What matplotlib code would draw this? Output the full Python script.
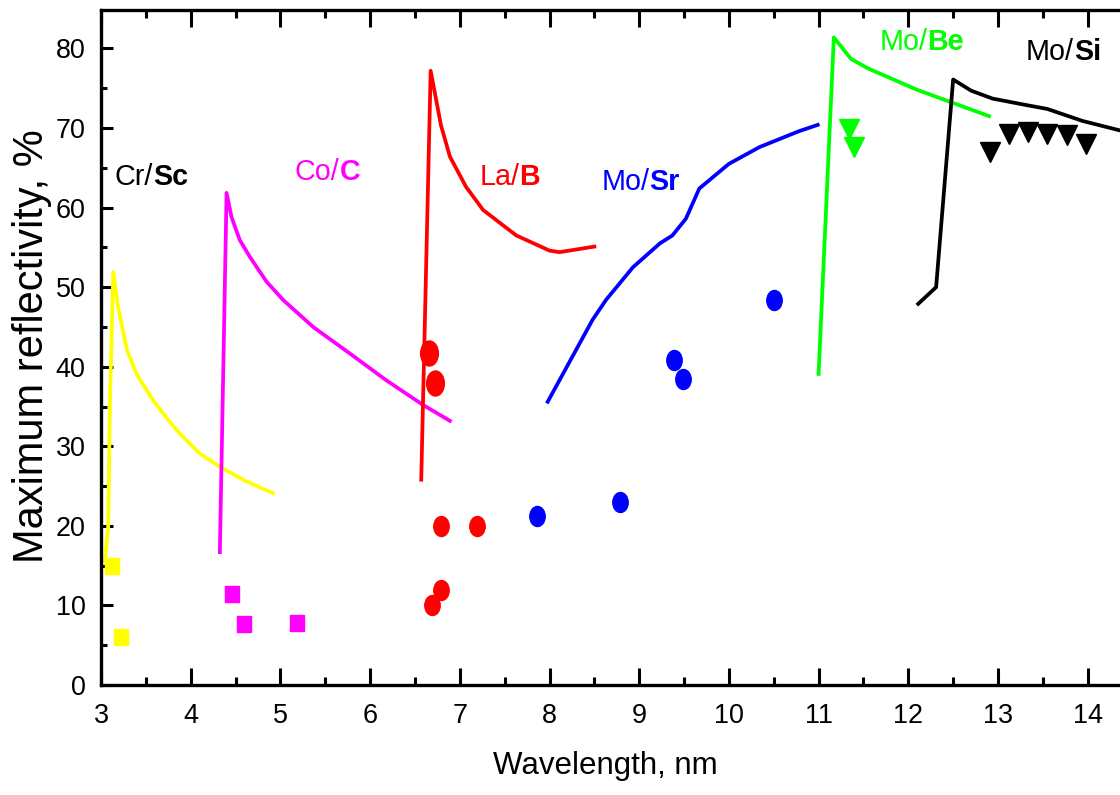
import os
import glob
import numpy as np
import matplotlib
matplotlib.use("Agg")
import matplotlib.pyplot as plt
from matplotlib.path import Path
from matplotlib import font_manager as fm

# ---------------- data ----------------
crsc_x = [3.045, 3.08, 3.10, 3.137, 3.19, 3.29, 3.40, 3.58, 3.75, 3.88, 4.10, 4.33, 4.60, 4.92]
crsc_y = [15.7, 19.9, 35.8, 51.9, 47.5, 42.1, 39.0, 35.8, 33.3, 31.6, 29.1, 27.4, 25.7, 24.1]

coc_x = [4.325, 4.40, 4.455, 4.548, 4.66, 4.845, 5.03, 5.365, 5.77, 6.18, 6.59, 6.89]
coc_y = [16.7, 61.85, 58.8, 55.9, 53.8, 50.7, 48.4, 45.0, 41.7, 38.3, 35.2, 33.2]

lab_x = [6.57, 6.675, 6.79, 6.89, 7.07, 7.26, 7.63, 8.00, 8.11, 8.50]
lab_y = [25.8, 77.2, 70.35, 66.4, 62.6, 59.7, 56.5, 54.6, 54.4, 55.1]

mosr_x = [7.98, 8.48, 8.63, 8.93, 9.23, 9.37, 9.52, 9.67, 10.00, 10.34, 10.78, 10.99]
mosr_y = [35.6, 45.9, 48.4, 52.5, 55.5, 56.5, 58.6, 62.4, 65.5, 67.6, 69.6, 70.4]

mobe_x = [11.00, 11.17, 11.36, 11.55, 12.10, 12.90]
mobe_y = [39.1, 81.4, 78.7, 77.5, 74.8, 71.5]

mosi_x = [12.11, 12.31, 12.50, 12.70, 12.94, 13.31, 13.55, 13.94, 14.36]
mosi_y = [47.9, 50.0, 76.1, 74.7, 73.7, 72.9, 72.4, 70.9, 69.7]

# measured points
crsc_px = [3.126, 3.22]
crsc_py = [15.0, 6.0]
coc_px = [4.46, 4.59, 5.19]
coc_py = [11.4, 7.7, 7.8]
lab_px = [6.79, 7.19, 6.79, 6.69]
lab_py = [20.0, 20.0, 11.9, 10.0]
lab_big_px = [6.66, 6.72]
lab_big_py = [41.7, 38.0]
mosr_px = [7.86, 8.79, 9.39, 9.49, 10.50]
mosr_py = [21.2, 23.0, 40.8, 38.4, 48.4]
mobe_px = [11.34, 11.40]
mobe_py = [69.9, 67.6]
mosi_px = [12.91, 13.12, 13.33, 13.55, 13.77, 13.98]
mosi_py = [67.0, 69.2, 69.5, 69.3, 69.1, 68.0]

labels = [("Cr/", "Sc", 3.156, 62.8, "black"),
          ("Co/", "C", 5.16, 63.5, "#FF00FF"),
          ("La/", "B", 7.22, 62.8, "#FF0000"),
          ("Mo/", "Sr", 8.576, 62.2, "#0000FF"),
          ("Mo/", "Be", 11.68, 79.8, "#00FF00"),
          ("Mo/", "Si", 13.31, 78.5, "black")]

xticks = list(range(3, 15))
yticks = list(range(0, 90, 10))

# ---------------- fonts ----------------
def find_font_file(basenames):
    files = [f.fname for f in fm.fontManager.ttflist]
    for d in ["/usr/share/fonts", "/usr/local/share/fonts", os.path.expanduser("~/.fonts")]:
        files += glob.glob(os.path.join(d, "**", "*.ttf"), recursive=True)
    low = {os.path.basename(p).lower(): p for p in files}
    for b in basenames:
        if b in low:
            return low[b]
    return None

narrow_reg = find_font_file(["liberationsansnarrow-regular.ttf"])
narrow_bold = find_font_file(["liberationsansnarrow-bold.ttf"])
HAVE_NARROW = narrow_reg is not None and narrow_bold is not None

def fp(size, bold=False, shrink=0.9):
    if HAVE_NARROW:
        return fm.FontProperties(fname=narrow_bold if bold else narrow_reg, size=size)
    return fm.FontProperties(family=["Liberation Sans", "DejaVu Sans"],
                             weight="bold" if bold else "normal", size=size * shrink)

REG = ["Liberation Sans", "DejaVu Sans"]

# ---------------- markers ----------------
def ellipse_marker(aspect):
    c = Path.unit_circle()
    v = c.vertices * np.array([aspect, 1.0])
    return Path(v, c.codes)

def rect_marker(aspect):
    v = np.array([[-aspect, -1], [aspect, -1], [aspect, 1], [-aspect, 1], [-aspect, -1]]) * 0.5
    return Path(v, [Path.MOVETO, Path.LINETO, Path.LINETO, Path.LINETO, Path.CLOSEPOLY])

ell = ellipse_marker(0.77)
ell_big = ellipse_marker(0.71)
rect = rect_marker(0.8)

fig = plt.figure(figsize=(11.2, 7.95), dpi=100)
ax = fig.add_axes([101 / 1120, 1 - 685 / 795, 1019 / 1120, (685 - 9.5) / 795])

lw = 2.7
ax.plot(crsc_x, crsc_y, color="#FFFF00", lw=lw)
ax.plot(coc_x, coc_y, color="#FF00FF", lw=lw)
ax.plot(lab_x, lab_y, color="#FF0000", lw=lw)
ax.plot(mosr_x, mosr_y, color="#0000FF", lw=lw)
ax.plot(mobe_x, mobe_y, color="#00FF00", lw=lw)
ax.plot(mosi_x, mosi_y, color="black", lw=lw)

ax.plot(crsc_px, crsc_py, ls="none", marker=rect, ms=11.9, color="#FFFF00")
ax.plot(coc_px, coc_py, ls="none", marker=rect, ms=11.9, color="#FF00FF")
ax.plot(lab_px, lab_py, ls="none", marker=ell, ms=14.4, color="#FF0000")
ax.plot(lab_big_px, lab_big_py, ls="none", marker=ell_big, ms=18.0, color="#FF0000")
ax.plot(mosr_px, mosr_py, ls="none", marker=ell, ms=14.4, color="#0000FF")
ax.plot(mobe_px, mobe_py, ls="none", marker="v", ms=13.7, color="#00FF00")
ax.plot(mosi_px, mosi_py, ls="none", marker="v", ms=13.7, color="black")

ax.set_xlim(3, 14.36)
ax.set_ylim(0, 84.9)
ax.set_xticks(xticks)
ax.set_xticks(np.arange(3.5, 14.5, 1.0), minor=True)
ax.set_yticks(yticks)
ax.set_yticks(np.arange(5, 85, 10), minor=True)

for s in ["left", "bottom", "top"]:
    ax.spines[s].set_linewidth(2.4)
ax.spines["right"].set_visible(False)

ax.tick_params(axis="x", which="major", direction="in", length=12, width=2.2,
               top=True, bottom=True, pad=13)
ax.tick_params(axis="x", which="minor", direction="in", length=5.5, width=2.2,
               top=True, bottom=True)
ax.tick_params(axis="y", which="major", direction="in", length=8.6, width=2.2,
               left=True, right=False, pad=11)
ax.tick_params(axis="y", which="minor", direction="in", length=4.5, width=2.2,
               left=True, right=False)

tick_fp = fp(20.5, shrink=0.95)
for lab in ax.get_xticklabels() + ax.get_yticklabels():
    lab.set_fontproperties(tick_fp)

ax.set_xlabel("Wavelength, nm", family=REG, fontsize=22.5)
ax.xaxis.set_label_coords((605 - 101) / 1019, -0.097)
ax.set_ylabel("Maximum reflectivity, %", family=REG, fontsize=30)
ax.yaxis.set_label_coords(-0.048, 0.502)

for norm, bold, x, y, col in labels:
    t = ax.text(x, y, norm, color=col, fontproperties=fp(23), va="baseline", ha="left")
    ax.annotate(bold, xy=(1, 0), xycoords=t, color=col, fontproperties=fp(23, True),
                va="bottom", ha="left")

fig.savefig("out.png", dpi=100)
